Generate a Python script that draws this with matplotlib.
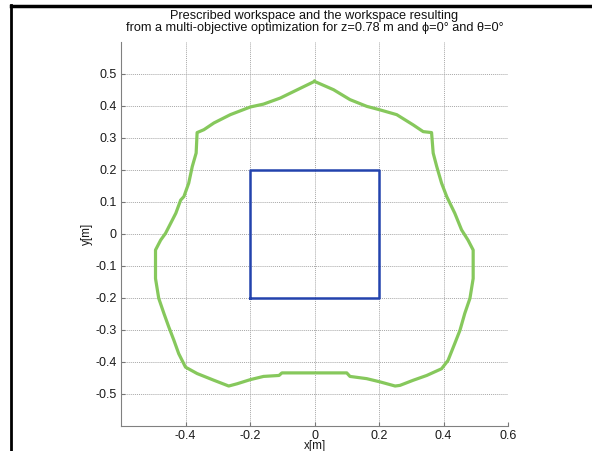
import matplotlib
matplotlib.use('Agg')
import matplotlib.pyplot as plt
from matplotlib.lines import Line2D

plt.rcParams['font.family'] = ['Liberation Sans', 'DejaVu Sans']

# workspace boundary from the optimization, clockwise from the top
workspace_x = [0.000, 0.059, 0.110, 0.162, 0.203, 0.255, 0.306, 0.337, 0.363, 0.368,
               0.379, 0.394, 0.410, 0.435, 0.456, 0.476, 0.492, 0.492, 0.482, 0.466,
               0.451, 0.435, 0.414, 0.394, 0.348, 0.306, 0.265, 0.250, 0.203, 0.162,
               0.110, 0.100, -0.101, -0.110, -0.158, -0.199, -0.240, -0.266, -0.312, -0.364,
               -0.400, -0.421, -0.436, -0.452, -0.467, -0.483, -0.493, -0.493, -0.477, -0.462,
               -0.430, -0.415, -0.405, -0.390, -0.379, -0.367, -0.364, -0.343, -0.312, -0.261,
               -0.199, -0.158, -0.106, 0.000]
workspace_y = [0.476, 0.450, 0.419, 0.398, 0.387, 0.372, 0.340, 0.319, 0.316, 0.252,
               0.210, 0.158, 0.116, 0.064, 0.012, -0.020, -0.051, -0.140, -0.202, -0.249,
               -0.302, -0.343, -0.396, -0.422, -0.443, -0.458, -0.474, -0.476, -0.463, -0.453,
               -0.446, -0.435, -0.435, -0.443, -0.446, -0.456, -0.469, -0.476, -0.458, -0.437,
               -0.417, -0.375, -0.333, -0.291, -0.249, -0.202, -0.140, -0.051, -0.020, 0.001,
               0.064, 0.105, 0.116, 0.158, 0.210, 0.252, 0.316, 0.325, 0.346, 0.372,
               0.396, 0.405, 0.424, 0.476]

# prescribed workspace (square)
prescribed_x = [-0.2, 0.2, 0.2, -0.2, -0.2]
prescribed_y = [-0.2, -0.2, 0.2, 0.2, -0.2]

x_ticks = [-0.4, -0.2, 0, 0.2, 0.4, 0.6]
y_ticks = [-0.5, -0.4, -0.3, -0.2, -0.1, 0, 0.1, 0.2, 0.3, 0.4, 0.5]

fig = plt.figure(figsize=(5.92, 4.51), dpi=100)
ax = fig.add_axes([121 / 592, 25.3 / 451, 387 / 592, 384 / 451])

ax.plot(workspace_x, workspace_y, color='#86c85c', linewidth=2.3, solid_joinstyle='round')
ax.plot(prescribed_x, prescribed_y, color='#2343ad', linewidth=1.8)

ax.set_xlim(-0.6, 0.6)
ax.set_ylim(-0.6, 0.6)
ax.set_xticks(x_ticks)
ax.set_yticks(y_ticks)
ax.set_xticklabels(['-0.4', '-0.2', '0', '0.2', '0.4', '0.6'])
ax.set_yticklabels(['-0.5', '-0.4', '-0.3', '-0.2', '-0.1', '0', '0.1', '0.2', '0.3', '0.4', '0.5'])
ax.tick_params(direction='in', length=3, color='#777777', labelsize=9, labelcolor='#1a1a1a', pad=3)
ax.grid(True, linestyle=(0, (1, 1)), color='#a8a8a8', linewidth=0.7)
ax.spines['top'].set_visible(False)
ax.spines['right'].set_visible(False)
ax.spines['left'].set_color('#808080')
ax.spines['bottom'].set_color('#808080')

ax.set_title('Prescribed workspace and the workspace resulting\n'
             'from a multi-objective optimization for z=0.78 m and \u03d5=0\u00b0 and \u03b8=0\u00b0',
             fontsize=9.2, color='#111111', pad=8, linespacing=1.0)
ax.set_xlabel('x[m]', fontsize=8.5, color='#1a1a1a', labelpad=-1)
ax.set_ylabel('y[m]', fontsize=8.5, color='#1a1a1a', labelpad=2)

# table border around the figure
fig.add_artist(Line2D([11 / 592, 11 / 592], [0, 1 - 5 / 451], transform=fig.transFigure,
                      color='black', linewidth=2))
fig.add_artist(Line2D([11 / 592, 1], [1 - 6 / 451, 1 - 6 / 451], transform=fig.transFigure,
                      color='black', linewidth=2.5))

fig.savefig('out.png', dpi=100)
